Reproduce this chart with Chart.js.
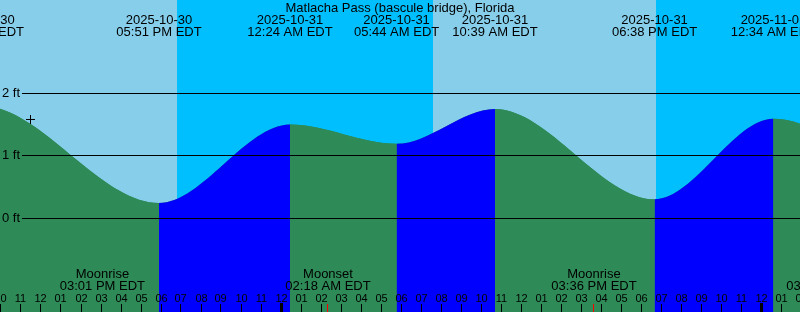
<!DOCTYPE html>
<html>
<head>
<meta charset="utf-8">
<script src="https://cdn.jsdelivr.net/npm/chart.js@4.4.1/dist/chart.umd.min.js"></script>
<style>
  html, body { margin: 0; padding: 0; background: #87ceeb; }
  #wrap { width: 800px; height: 312px; }
</style>
</head>
<body>
<div id="wrap"><canvas id="tideChart"></canvas></div>
<script>
var title = 'Matlacha Pass (bascule bridge), Florida';

// hours counted from 2025-10-30 00:00 EDT
var tideHours   = [3.0, 8.97, 17.85, 24.4, 29.73, 34.65, 42.63, 48.57, 54.4, 60.0];
var tideHeights = [0.55, 1.80, 0.24, 1.50, 1.19, 1.75, 0.30, 1.59, 1.00, 1.65];
var tideDates   = ['2025-10-30', '2025-10-30', '2025-10-30', '2025-10-31', '2025-10-31',
                   '2025-10-31', '2025-10-31', '2025-11-01', '2025-11-01', '2025-11-01'];
var tideTimes   = ['03:00 AM EDT', '08:58 AM EDT', '05:51 PM EDT', '12:24 AM EDT', '05:44 AM EDT',
                   '10:39 AM EDT', '06:38 PM EDT', '12:34 AM EDT', '06:24 AM EDT', '12:00 PM EDT'];

var moonHours  = [15.02, 26.3, 39.6, 51.35];
var moonEvents = ['Moonrise', 'Moonset', 'Moonrise', 'Moonset'];
var moonTimes  = ['03:01 PM EDT', '02:18 AM EDT', '03:36 PM EDT', '03:21 AM EDT'];

var nightStart = [18.73, 42.72];
var nightEnd   = [31.55, 55.6];

var feetTicks  = [0, 1, 2];
var feetLabels = ['0 ft', '1 ft', '2 ft'];
var midnights  = [24, 48];

var nowHour = 11.425, nowLevel = 1.58;

var FONT = '"Liberation Sans", Arial, sans-serif';

function hourLabel(h) {
    var v = ((h % 12) + 12) % 12;
    if (v === 0) v = 12;
    return (v < 10 ? '0' : '') + v;
}

var tidePlugin = {
    id: 'tideDecor',
    beforeDatasetsDraw: function(chart) {
        var ctx = chart.ctx, xs = chart.scales.x, a = chart.chartArea;
        ctx.save();
        ctx.fillStyle = 'skyblue';
        ctx.fillRect(a.left, a.top, a.right - a.left, a.bottom - a.top);
        ctx.fillStyle = 'deepskyblue';
        for (var i = 0; i < nightStart.length; i++) {
            var x0 = Math.round(xs.getPixelForValue(nightStart[i]));
            var x1 = Math.round(xs.getPixelForValue(nightEnd[i]));
            ctx.fillRect(x0, a.top, x1 - x0, a.bottom - a.top);
        }
        ctx.restore();
    },
    afterDatasetsDraw: function(chart) {
        var ctx = chart.ctx, xs = chart.scales.x, ys = chart.scales.y, a = chart.chartArea;
        var i, x, y;
        ctx.save();
        ctx.fillStyle = 'black';
        ctx.textBaseline = 'alphabetic';

        // depth lines
        ctx.font = '13px ' + FONT;
        ctx.textAlign = 'left';
        for (i = 0; i < feetTicks.length; i++) {
            y = Math.floor(ys.getPixelForValue(feetTicks[i]));
            ctx.fillRect(22, y, a.right - 22, 1);
            ctx.fillText(feetLabels[i], 2, y + 4);
        }

        // title + tide events
        ctx.textAlign = 'center';
        ctx.fillText(title, 400, 12);
        for (i = 0; i < tideHours.length; i++) {
            x = xs.getPixelForValue(tideHours[i]);
            ctx.fillText(tideDates[i], x, 24);
            ctx.fillText(tideTimes[i], x, 36);
        }

        // moon events
        for (i = 0; i < moonHours.length; i++) {
            x = xs.getPixelForValue(moonHours[i]);
            ctx.fillText(moonEvents[i], x, 278);
            ctx.fillText(moonTimes[i], x, 290);
            ctx.fillStyle = 'red';
            ctx.fillRect(Math.floor(x) - 1, 304, 1, 8);
            ctx.fillStyle = 'black';
        }

        // hour ticks
        ctx.font = '11px ' + FONT;
        for (var h = Math.floor(xs.min); h <= Math.ceil(xs.max); h++) {
            x = Math.floor(xs.getPixelForValue(h)) - 1;
            ctx.fillRect(x, 304, 1, 8);
            ctx.fillText(hourLabel(h), x + 0.5, 302);
        }
        for (i = 0; i < midnights.length; i++) {
            x = Math.floor(xs.getPixelForValue(midnights[i])) - 2;
            ctx.fillRect(x, 303, 3, 9);
        }
        ctx.restore();
    }
};

var tideData = tideHours.map(function(h, i) { return {x: h, y: tideHeights[i]}; });

var ctx = document.getElementById('tideChart').getContext('2d');
var tideChart = new Chart(ctx, {
    type: 'line',
    data: {
        datasets: [{
            type: 'scatter',
            data: [{x: nowHour, y: nowLevel}],
            pointStyle: 'cross',
            pointRadius: 4.5,
            borderColor: 'black',
            borderWidth: 1,
            order: 0
        }, {
            // rising = blue, falling = seagreen
            data: tideData,
            fill: 'start',
            cubicInterpolationMode: 'monotone',
            borderWidth: 0,
            borderColor: 'rgba(0,0,0,0)',
            backgroundColor: 'seagreen',
            pointRadius: 0,
            segment: {
                backgroundColor: function(c) {
                    return c.p1.parsed.y > c.p0.parsed.y ? 'blue' : 'seagreen';
                }
            },
            order: 1
        }, {
            // plain underlay so segment seams don't show the sky
            data: tideData,
            fill: 'start',
            cubicInterpolationMode: 'monotone',
            borderWidth: 0,
            borderColor: 'rgba(0,0,0,0)',
            backgroundColor: 'seagreen',
            pointRadius: 0,
            order: 2
        }]
    },
    options: {
        responsive: true,
        maintainAspectRatio: false,
        devicePixelRatio: 1,
        animation: false,
        layout: { padding: 0, autoPadding: false },
        plugins: {
            legend: { display: false },
            tooltip: { enabled: false },
            title: { display: false }
        },
        scales: {
            x: { type: 'linear', min: 9.9, max: 49.9, display: false },
            y: { type: 'linear', min: -1.5076, max: 3.4964, display: false }
        }
    },
    plugins: [tidePlugin]
});
</script>
</body>
</html>
